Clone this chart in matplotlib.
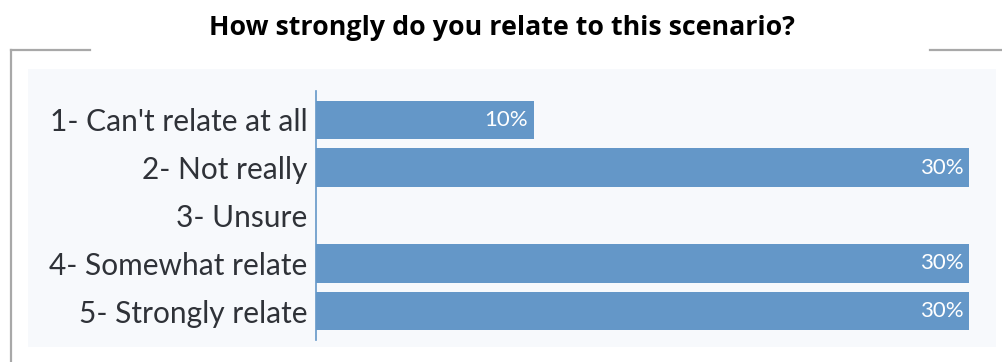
import matplotlib.pyplot as plt
from matplotlib.patches import Rectangle
from matplotlib.lines import Line2D

categories = ["1- Can't relate at all", "2- Not really", "3- Unsure",
              "4- Somewhat relate", "5- Strongly relate"]
percents = [10, 30, 0, 30, 30]

TITLE = "How strongly do you relate to this scenario?"
BAR_COLOR = '#6497c8'
TEXT_COLOR = '#2f3238'

W, H = 1003, 362
fig = plt.figure(figsize=(W / 100, H / 100), dpi=100)
fig.patch.set_facecolor('white')

# light panel behind the chart
fig.patches.append(Rectangle((28 / W, 1 - 347 / H), (996 - 28) / W, (347 - 69) / H,
                             transform=fig.transFigure, facecolor='#f7f9fc',
                             edgecolor='none', zorder=-5))
# grey frame fragments
frame = dict(transform=fig.transFigure, color='#a8a8a8', lw=1.6, zorder=-4)
fig.lines.append(Line2D([11 / W, 11 / W], [1 - 50 / H, 0], **frame))
fig.lines.append(Line2D([11 / W, 90 / W], [1 - 50 / H, 1 - 50 / H], **frame))
fig.lines.append(Line2D([930 / W, 1003 / W], [1 - 50 / H, 1 - 50 / H], **frame))

fig.text(0.5, 1 - 28 / H, TITLE, ha='center', va='center', fontsize=19.3,
         fontweight='bold', family='Open Sans', color='black')

ax = fig.add_axes([316 / W, 1 - 340 / H, (969 - 316) / W, (340 - 91) / H])
ax.set_facecolor('none')
y = list(range(len(categories)))
ax.barh(y, percents, height=0.8, color=BAR_COLOR)
ax.set_xlim(0, 30)
ax.set_ylim(4.6, -0.6)
ax.set_yticks(y)
ax.set_yticklabels(categories, fontsize=21.5, family='Lato', color=TEXT_COLOR)
ax.tick_params(axis='y', length=0, pad=6)
ax.set_xticks([])
for s in ['top', 'right', 'bottom']:
    ax.spines[s].set_visible(False)
ax.spines['left'].set_color('#6497c8')
ax.spines['left'].set_linewidth(1.2)

for yi, v in zip(y, percents):
    if v > 0:
        ax.text(v - 0.25, yi, f'{v}%', ha='right', va='center', color='white',
                fontsize=16, family='Lato')

fig.savefig('out.png', dpi=100)
